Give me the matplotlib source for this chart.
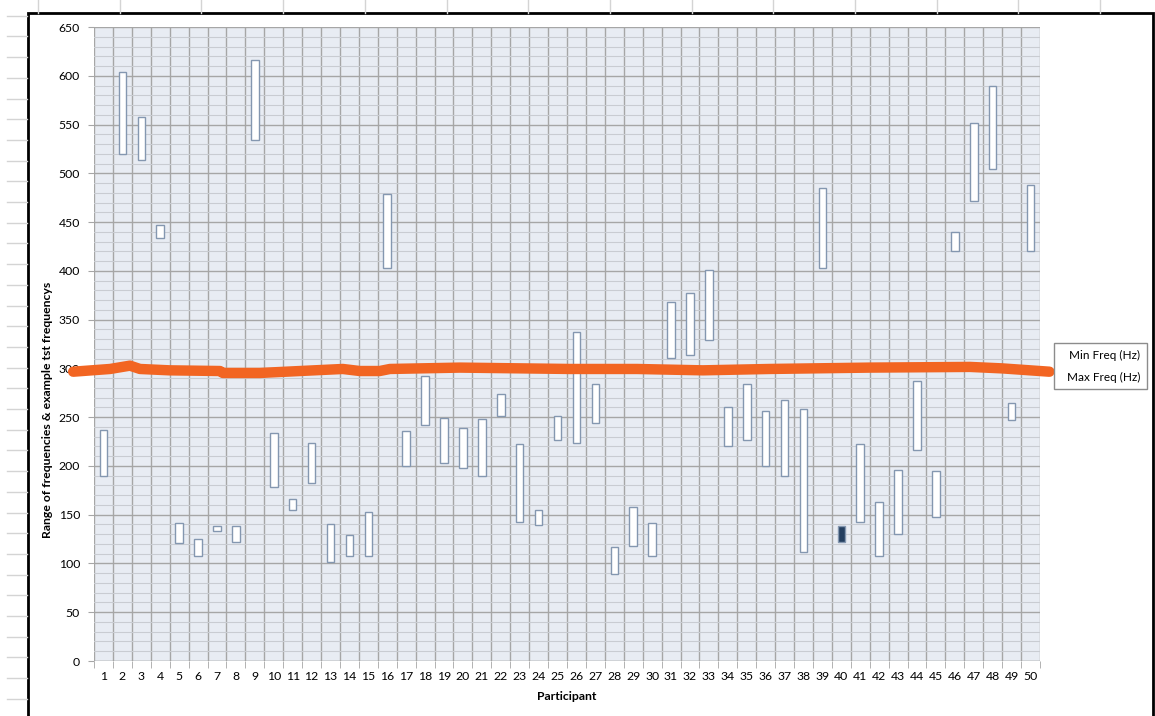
import numpy as np
import matplotlib
matplotlib.use("Agg")
from matplotlib import pyplot as plt
from matplotlib.lines import Line2D
from matplotlib.patches import Rectangle

plt.rcParams['font.family'] = ['Lato', 'DejaVu Sans']

# participant number, min and max frequency (Hz)
participants = np.arange(1, 51)
min_freq = [190, 520, 514, 434, 121, 108, 133, 122, 534, 178,
            155, 183, 101, 108, 108, 403, 200, 242, 203, 198,
            190, 251, 142, 139, 227, 224, 244, 89, 118, 108,
            311, 314, 329, 220, 227, 200, 190, 112, 403, 138,
            142, 108, 130, 216, 148, 420, 472, 504, 247, 420]
max_freq = [237, 604, 558, 447, 141, 125, 138, 138, 616, 234,
            166, 223, 140, 129, 153, 479, 236, 292, 249, 239,
            248, 274, 222, 155, 251, 337, 284, 117, 158, 141,
            368, 377, 401, 260, 284, 256, 268, 258, 485, 122,
            222, 163, 196, 287, 195, 440, 552, 590, 264, 488]

# hand drawn orange marker line (x in participant units, y in Hz)
mark_x = [-0.6, 1.35, 2.4, 2.93, 4.5, 7.16, 7.31, 9.27, 11.38, 13.65, 14.55,
          15.6, 16.14, 19.84, 25.65, 29.2, 32.68, 36.2, 41.5, 46.8, 48.5, 51.0]
mark_y = [296.6, 299.4, 302.8, 299.4, 298, 297.3, 295.3, 295.3, 297.3, 299.4,
          297.3, 297.3, 299.4, 300.8, 299.4, 299.4, 298, 299.4, 300.8, 301.5,
          300, 296.6]

W, H = 1155, 716
fig = plt.figure(figsize=(W / 100, H / 100), dpi=100)

# spreadsheet cells behind the chart
for x in np.arange(38, W, 81.7):
    fig.add_artist(Line2D([x / W, x / W], [1, 1 - 13 / H], color='#D4D4D4', lw=1))
for y in np.arange(15.7, H, 20.7):
    fig.add_artist(Line2D([7 / W, 27 / W], [1 - y / H, 1 - y / H], color='#D4D4D4', lw=1))
fig.add_artist(Rectangle((27.5 / W, -0.05), (1152.5 - 27.5) / W, 1.05 - 13.5 / H,
                         transform=fig.transFigure, facecolor='white',
                         edgecolor='black', lw=2, zorder=0))

ax = fig.add_axes([94 / W, (H - 661) / H, 946 / W, 634 / H])
ax.set_facecolor('#E8ECF3')
for s in ax.spines.values():
    s.set_visible(False)

ax.set_xlim(0.5, 50.5)
ax.set_ylim(0, 650)
ax.set_yticks(np.arange(0, 651, 50))
ax.set_yticks(np.arange(0, 651, 10), minor=True)
ax.set_xticks(participants)
ax.set_xticks(np.arange(0.5, 51, 1), minor=True)
ax.set_xticklabels([str(p) for p in participants])

ax.grid(which='major', axis='y', color='#A6A6A6', lw=1)
ax.grid(which='minor', axis='y', color='#C9CCD2', lw=0.8)
ax.grid(which='minor', axis='x', color='#A6A6A6', lw=1)
ax.set_axisbelow(True)

ax.tick_params(axis='x', which='major', length=0, pad=7, labelsize=8.8)
ax.tick_params(axis='x', which='minor', length=5, color='#A6A6A6')
ax.tick_params(axis='y', which='major', length=4, color='#A6A6A6', labelsize=8.8, pad=6)
ax.tick_params(axis='y', which='minor', length=0)
ax.axhline(0, color='#A6A6A6', lw=1)

lo = np.minimum(min_freq, max_freq)
hi = np.maximum(min_freq, max_freq)
colors = ['white' if mx >= mn else '#243F60' for mn, mx in zip(min_freq, max_freq)]
ax.bar(participants, hi - lo, bottom=lo, width=0.4, color=colors,
       edgecolor='#8497B0', lw=1, zorder=3)

ax.plot(mark_x, mark_y, color='#F26522', lw=7.5, solid_capstyle='round',
        solid_joinstyle='round', clip_on=False, zorder=5)

fig.text(567 / W, 1 - 697 / H, 'Participant', ha='center', va='center',
         fontsize=8.8, fontweight='bold')
fig.text(48 / W, 1 - 410 / H, 'Range of frequencies & example tst frequencys',
         rotation=90, ha='center', va='center', fontsize=8.8, fontweight='bold')

# legend box on the right
fig.add_artist(Rectangle((1054 / W, 1 - 389 / H), 93 / W, 46 / H,
                         transform=fig.transFigure, facecolor='white',
                         edgecolor='#8C8C8C', lw=1, zorder=6))
fig.text(1140 / W, 1 - 355 / H, 'Min Freq (Hz)', ha='right', va='center', fontsize=8.5, zorder=7)
fig.text(1140 / W, 1 - 377 / H, 'Max Freq (Hz)', ha='right', va='center', fontsize=8.5, zorder=7)

fig.savefig('out.png', dpi=100)
